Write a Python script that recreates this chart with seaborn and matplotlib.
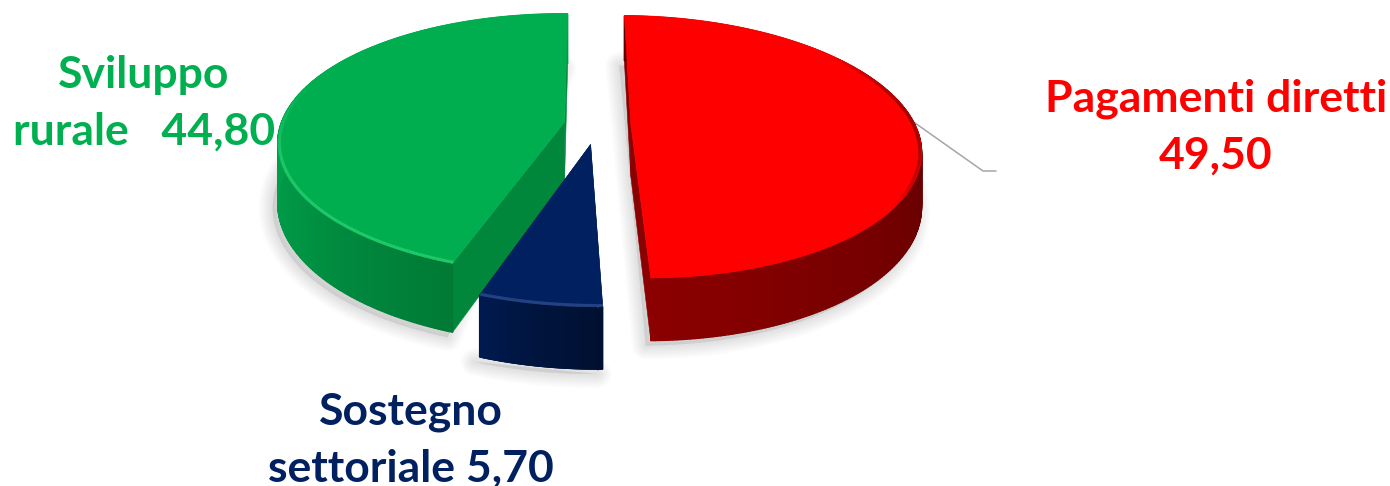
import matplotlib
matplotlib.use("Agg")
import matplotlib.pyplot as plt
import numpy as np
import seaborn as sns
from matplotlib.collections import LineCollection, PolyCollection

categories = ["Pagamenti diretti", "Sostegno settoriale", "Sviluppo rurale"]
values = [49.50, 5.70, 44.80]
label_formats = ["Pagamenti diretti\n{}", "Sostegno\nsettoriale {}", "Sviluppo\nrurale   {}"]

top_colors = ["#ff0000", "#002060", "#00ae50"]
text_colors = ["#ff0000", "#002060", "#00b050"]
face_colors = ["#8b0000", "#001848", "#00873c"]
side_stops = [
    ["#5c0000", "#5c0000", "#6e0000", "#8b0000"],
    ["#001030", "#00143c", "#001a50"],
    ["#007a35", "#009545", "#00a34b", "#009a47", "#009a47"],
]
rim_colors = ["#8a0000", "#2f4f90", "#22c96a"]

# wedge offsets in the plane of the pie, and wall height of each wedge
explode = [(74, 6), (33, 49), (8, 0)]
depths = [52, 50, 58]
label_pos = [(1216, 127), (411, 440), (144, 103)]

RADIUS = 283
VANISH_X, VANISH_Y = 556.6, 122
PERSPECTIVE = 0.169
TILT = 0.446
ROTATION = 1.0


def project(x, y):
    scale = 1 / (1 - PERSPECTIVE * y / RADIUS)
    return VANISH_X + x * scale, VANISH_Y + TILT * y * scale, scale


def wedge_outline(start, end, offset):
    theta = np.radians(np.linspace(start, end, 240))
    px, py, scale = project(offset[0] + RADIUS * np.sin(theta), offset[1] - RADIUS * np.cos(theta))
    return theta, px, py, scale


def draw_shadow(ax, px, bottom):
    for width in np.linspace(20, 2, 10):
        ax.fill(
            px - 5, bottom + 5, color="#7f7f7f", alpha=0.02, lw=width,
            joinstyle="round", zorder=1,
        )


def draw_wedge(ax, i, start, end, level):
    offset = explode[i]
    depth = depths[i]
    theta, px, py, scale = wedge_outline(start, end, offset)
    apex_x, apex_y, apex_s = project(offset[0], offset[1])
    bottom = py + depth * scale
    apex_bottom = apex_y + depth * apex_s

    draw_shadow(ax, px, bottom)

    # the two cut faces
    for k in (0, -1):
        ax.fill(
            [apex_x, px[k], px[k], apex_x],
            [apex_y, py[k], bottom[k], apex_bottom],
            color=face_colors[i], lw=0.4, zorder=level,
        )

    # outer wall, one quad per rim step
    palette = sns.blend_palette(side_stops[i], n_colors=len(theta) - 1)
    quads = [
        [(px[j], py[j]), (px[j + 1], py[j + 1]), (px[j + 1], bottom[j + 1]), (px[j], bottom[j])]
        for j in range(len(theta) - 1)
    ]
    ax.add_collection(PolyCollection(quads, facecolors=palette, edgecolors=palette, linewidths=1.0, zorder=level + 0.1))

    # top
    ax.fill(np.r_[apex_x, px], np.r_[apex_y, py], color=top_colors[i], lw=0.4, zorder=level + 0.2)

    # soft bevel along the rim
    inset = 0.994
    rx, ry, _ = project(
        offset[0] + inset * RADIUS * np.sin(theta), offset[1] - inset * RADIUS * np.cos(theta)
    )
    points = np.column_stack([rx, ry]).reshape(-1, 1, 2)
    segments = np.concatenate([points[:-1], points[1:]], axis=1)
    weight = np.clip(-np.cos(theta[:-1]) * 1.6 + 0.5, 0, 1)
    if i == 0:
        weight = np.clip(np.sin(theta[:-1]) * 4 - 3.2, 0, 1)
    base = np.array(matplotlib.colors.to_rgb(top_colors[i]))
    glow = np.array(matplotlib.colors.to_rgb(rim_colors[i]))
    seg_colors = [base + (glow - base) * w for w in weight]
    ax.add_collection(LineCollection(segments, colors=seg_colors, linewidths=2.2, capstyle="butt", zorder=level + 0.3))


sns.set_theme(style="white")
plt.rcParams["font.family"] = ["Lato", "DejaVu Sans"]

fig, ax = plt.subplots(figsize=(13.9, 4.86), dpi=100)
ax.set_position([0, 0, 1, 1])
ax.set_xlim(0, 1390)
ax.set_ylim(486, 0)
ax.axis("off")

sweep = 360 * np.array(values) / np.sum(values)
edges = ROTATION + np.r_[0, np.cumsum(sweep)]

# back to front: green, red, navy
for level, i in zip((3, 5, 7), (2, 0, 1)):
    draw_wedge(ax, i, edges[i], edges[i + 1], level)

ax.plot([915, 983, 996], [123, 171, 171], color="#a6a6a6", lw=1.1, zorder=2)

for i, text in enumerate(label_formats):
    value = f"{values[i]:.2f}".replace(".", ",")
    ax.text(
        label_pos[i][0], label_pos[i][1], text.format(value),
        color=text_colors[i], fontsize=32, fontweight="bold",
        ha="center", va="center", linespacing=1.5, zorder=10,
    )

fig.savefig("out.png", dpi=100)
plt.close(fig)
